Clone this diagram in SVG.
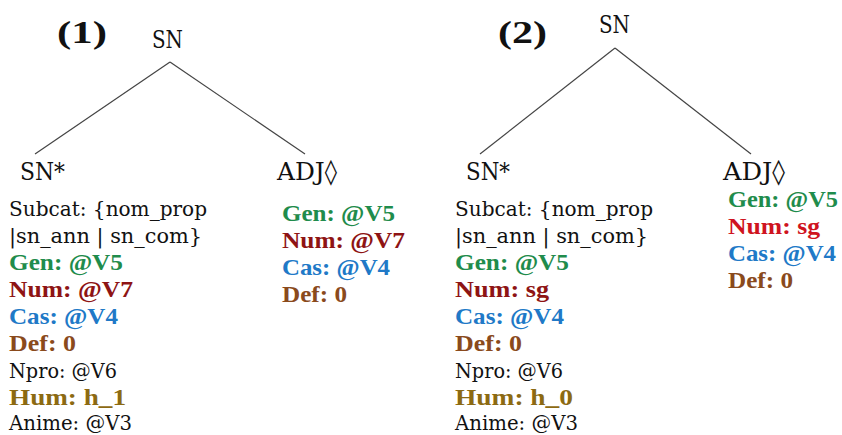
<svg xmlns="http://www.w3.org/2000/svg" width="842" height="435" viewBox="0 0 842 435">
<style>
text{font-family:"DejaVu Serif","Liberation Serif",serif;fill:#111}
.b,.num{font-family:"Liberation Serif","DejaVu Serif",serif;font-weight:bold}
.lab{font-size:25px}
.num{font-size:32px}
.f{font-size:21px}
.b{font-size:23px}
.gen{fill:#1f8c4c}
.numd{fill:#8e1414}
.numr{fill:#cf1320}
.cas{fill:#2079c7}
.def{fill:#8a4a1c}
.hum{fill:#8c6a12}
.edge{stroke:#444;stroke-width:1.2;fill:none}
</style>
<rect width="842" height="435" fill="#fff"/>
<g id="connectors">
<line class="edge" x1="170" y1="62" x2="35" y2="154"/>
<line class="edge" x1="170" y1="62" x2="305" y2="154"/>
<line class="edge" x1="615" y1="48" x2="480" y2="154"/>
<line class="edge" x1="615" y1="48" x2="751" y2="154"/>
</g>
<g id="label1"><text class="num" x="57" y="43" textLength="50" lengthAdjust="spacingAndGlyphs">(1)</text></g>
<g id="label2"><text class="num" x="498" y="43" textLength="49" lengthAdjust="spacingAndGlyphs">(2)</text></g>
<g id="t1-root"><text class="lab" x="152" y="48" textLength="31" lengthAdjust="spacingAndGlyphs">SN</text></g>
<g id="t1-sn">
<text class="lab" x="20" y="180" textLength="45" lengthAdjust="spacingAndGlyphs">SN*</text>
<text class="f" x="9" y="216" textLength="198" lengthAdjust="spacingAndGlyphs">Subcat: {nom_prop</text>
<text class="f" x="9" y="243" textLength="193" lengthAdjust="spacingAndGlyphs">|sn_ann | sn_com}</text>
<text class="b gen" x="9" y="270" textLength="114" lengthAdjust="spacingAndGlyphs">Gen: @V5</text>
<text class="b numd" x="9" y="297" textLength="124" lengthAdjust="spacingAndGlyphs">Num: @V7</text>
<text class="b cas" x="9" y="324" textLength="109" lengthAdjust="spacingAndGlyphs">Cas: @V4</text>
<text class="b def" x="9" y="351" textLength="67" lengthAdjust="spacingAndGlyphs">Def: 0</text>
<text class="f" x="9" y="378" textLength="108" lengthAdjust="spacingAndGlyphs">Npro: @V6</text>
<text class="b hum" x="9" y="405" textLength="117" lengthAdjust="spacingAndGlyphs">Hum: h_1</text>
<text class="f" x="9" y="430" textLength="123" lengthAdjust="spacingAndGlyphs">Anime: @V3</text>
</g>
<g id="t1-adj">
<text class="lab" x="277" y="180" textLength="60" lengthAdjust="spacingAndGlyphs">ADJ◊</text>
<text class="b gen" x="282" y="221" textLength="113" lengthAdjust="spacingAndGlyphs">Gen: @V5</text>
<text class="b numd" x="282" y="248" textLength="123" lengthAdjust="spacingAndGlyphs">Num: @V7</text>
<text class="b cas" x="282" y="275" textLength="108" lengthAdjust="spacingAndGlyphs">Cas: @V4</text>
<text class="b def" x="282" y="302" textLength="65" lengthAdjust="spacingAndGlyphs">Def: 0</text>
</g>
<g id="t2-root"><text class="lab" x="599" y="33" textLength="31" lengthAdjust="spacingAndGlyphs">SN</text></g>
<g id="t2-sn">
<text class="lab" x="466" y="180" textLength="44" lengthAdjust="spacingAndGlyphs">SN*</text>
<text class="f" x="455" y="216" textLength="198" lengthAdjust="spacingAndGlyphs">Subcat: {nom_prop</text>
<text class="f" x="455" y="243" textLength="193" lengthAdjust="spacingAndGlyphs">|sn_ann | sn_com}</text>
<text class="b gen" x="455" y="270" textLength="114" lengthAdjust="spacingAndGlyphs">Gen: @V5</text>
<text class="b numd" x="455" y="297" textLength="94" lengthAdjust="spacingAndGlyphs">Num: sg</text>
<text class="b cas" x="455" y="324" textLength="109" lengthAdjust="spacingAndGlyphs">Cas: @V4</text>
<text class="b def" x="455" y="351" textLength="67" lengthAdjust="spacingAndGlyphs">Def: 0</text>
<text class="f" x="455" y="378" textLength="108" lengthAdjust="spacingAndGlyphs">Npro: @V6</text>
<text class="b hum" x="455" y="405" textLength="118" lengthAdjust="spacingAndGlyphs">Hum: h_0</text>
<text class="f" x="455" y="430" textLength="123" lengthAdjust="spacingAndGlyphs">Anime: @V3</text>
</g>
<g id="t2-adj">
<text class="lab" x="723" y="180" textLength="62" lengthAdjust="spacingAndGlyphs">ADJ◊</text>
<text class="b gen" x="728" y="207" textLength="110" lengthAdjust="spacingAndGlyphs">Gen: @V5</text>
<text class="b numr" x="728" y="234" textLength="92" lengthAdjust="spacingAndGlyphs">Num: sg</text>
<text class="b cas" x="728" y="261" textLength="108" lengthAdjust="spacingAndGlyphs">Cas: @V4</text>
<text class="b def" x="728" y="288" textLength="65" lengthAdjust="spacingAndGlyphs">Def: 0</text>
</g>
</svg>
